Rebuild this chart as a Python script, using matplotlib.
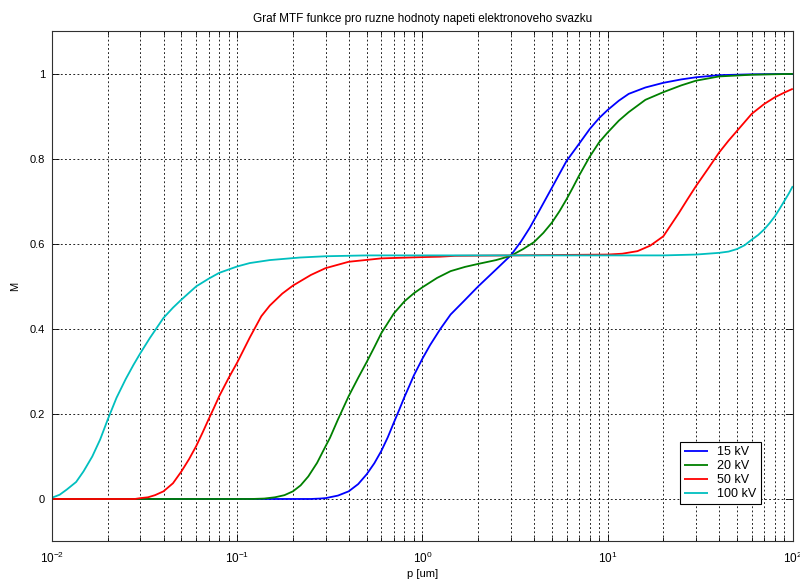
import matplotlib
matplotlib.use("Agg")
import matplotlib.pyplot as plt
from matplotlib.ticker import LogLocator, NullFormatter, FixedLocator

plt.rcParams['font.family'] = ['Liberation Sans', 'DejaVu Sans']
plt.rcParams['mathtext.fontset'] = 'custom'
plt.rcParams['mathtext.rm'] = 'Liberation Sans'
plt.rcParams['mathtext.it'] = 'Liberation Sans:italic'
plt.rcParams['mathtext.bf'] = 'Liberation Sans:bold'

title = "Graf MTF funkce pro ruzne hodnoty napeti elektronoveho svazku"
xlabel = "p [um]"
ylabel = "M"
labels = ["15 kV", "20 kV", "50 kV", "100 kV"]
colors = ["#0000ff", "#008000", "#ff0000", "#00bfbf"]

# 15 kV
p15 = [0.01, 0.1, 0.25, 0.28, 0.3, 0.35, 0.4, 0.45, 0.5, 0.55, 0.6, 0.65, 0.7, 0.75,
       0.8, 0.85, 0.9, 1.0, 1.1, 1.25, 1.42, 1.67, 2.0, 2.5, 3.0, 3.4, 3.8, 4.3, 5.0,
       5.5, 6.0, 7.0, 8.0, 9.0, 10.0, 11.5, 13.0, 16.0, 20.0, 25.0, 30.0, 40.0, 60.0,
       100.0]
m15 = [0.0, 0.0, 0.0, 0.001, 0.002, 0.008, 0.018, 0.035, 0.058, 0.084, 0.113, 0.145,
       0.179, 0.210, 0.240, 0.266, 0.291, 0.330, 0.362, 0.400, 0.434, 0.465, 0.500,
       0.540, 0.573, 0.605, 0.638, 0.680, 0.732, 0.765, 0.795, 0.835, 0.870, 0.896,
       0.915, 0.937, 0.953, 0.968, 0.979, 0.987, 0.992, 0.997, 0.999, 1.0]

# 20 kV
p20 = [0.01, 0.1, 0.12, 0.14, 0.16, 0.18, 0.2, 0.22, 0.242, 0.27, 0.3, 0.317, 0.35,
       0.4, 0.45, 0.5, 0.55, 0.6, 0.7, 0.8, 0.9, 1.0, 1.2, 1.42, 1.7, 2.0, 2.5, 3.0,
       3.5, 4.0, 4.5, 5.0, 5.5, 6.0, 6.5, 7.0, 8.0, 9.0, 10.0, 11.5, 13.0, 16.0, 20.0,
       25.0, 30.0, 40.0, 60.0, 100.0]
m20 = [0.0, 0.0, 0.0, 0.001, 0.004, 0.009, 0.018, 0.032, 0.053, 0.085, 0.124, 0.144,
       0.187, 0.242, 0.285, 0.322, 0.357, 0.390, 0.436, 0.465, 0.484, 0.498, 0.520,
       0.536, 0.546, 0.553, 0.562, 0.572, 0.588, 0.604, 0.626, 0.650, 0.677, 0.705,
       0.733, 0.760, 0.805, 0.839, 0.862, 0.890, 0.910, 0.939, 0.957, 0.973, 0.984,
       0.994, 0.998, 1.0]

# 50 kV
p50 = [0.01, 0.028, 0.03, 0.033, 0.036, 0.04, 0.045, 0.05, 0.055, 0.06, 0.065, 0.07,
       0.075, 0.08, 0.09, 0.1, 0.117, 0.135, 0.15, 0.175, 0.2, 0.25, 0.3, 0.4, 0.6,
       1.0, 1.25, 1.5, 3.0, 10.0, 12.0, 14.5, 17.0, 20.0, 22.0, 24.2, 27.0, 30.0,
       35.0, 40.0, 45.0, 50.0, 60.0, 70.0, 80.0, 90.0, 100.0]
m50 = [0.0, 0.0, 0.002, 0.004, 0.009, 0.018, 0.037, 0.065, 0.094, 0.124, 0.156,
       0.187, 0.215, 0.242, 0.285, 0.321, 0.380, 0.430, 0.455, 0.483, 0.502, 0.527,
       0.543, 0.558, 0.566, 0.569, 0.570, 0.572, 0.573, 0.575, 0.577, 0.583, 0.596,
       0.618, 0.645, 0.672, 0.705, 0.736, 0.778, 0.815, 0.843, 0.866, 0.906, 0.929,
       0.945, 0.956, 0.965]

# 100 kV
p100 = [0.01, 0.011, 0.012, 0.0135, 0.0148, 0.0165, 0.0182, 0.02, 0.0223, 0.025,
        0.0275, 0.03, 0.0338, 0.04, 0.045, 0.05, 0.06, 0.07, 0.08, 0.1, 0.117, 0.15,
        0.218, 0.3, 0.5, 1.0, 10.0, 20.0, 30.0, 40.0, 45.0, 50.0, 55.0, 60.0, 65.0,
        70.0, 75.0, 80.0, 85.0, 90.0, 95.0, 100.0]
m100 = [0.003, 0.010, 0.022, 0.040, 0.065, 0.100, 0.140, 0.187, 0.238, 0.282, 0.315,
        0.343, 0.379, 0.426, 0.450, 0.469, 0.500, 0.518, 0.532, 0.547, 0.555, 0.562,
        0.568, 0.571, 0.573, 0.573, 0.573, 0.573, 0.575, 0.579, 0.582, 0.588, 0.597,
        0.610, 0.621, 0.634, 0.649, 0.665, 0.683, 0.701, 0.718, 0.736]

series = [(p15, m15), (p20, m20), (p50, m50), (p100, m100)]

yticks = [0, 0.2, 0.4, 0.6, 0.8, 1.0]
yticklabels = ["0", "0.2", "0.4", "0.6", "0.8", "1"]

fig = plt.figure(figsize=(8.0, 5.81), dpi=100)
ax = fig.add_axes([0.065, 0.068, 0.926, 0.878])

for (px, py), c, lab in zip(series, colors, labels):
    ax.plot(px, py, color=c, lw=1.3, label=lab, solid_joinstyle='round',
            solid_capstyle='butt')

ax.set_xscale('log')
ax.set_xlim(0.01, 100)
ax.set_ylim(-0.1, 1.1)
ax.yaxis.set_major_locator(FixedLocator(yticks))
ax.set_yticklabels(yticklabels)
ax.xaxis.set_major_locator(LogLocator(base=10, numticks=10))
ax.xaxis.set_minor_locator(LogLocator(base=10, subs=range(2, 10), numticks=20))
ax.xaxis.set_minor_formatter(NullFormatter())

gstyle = dict(color='black', lw=0.6, linestyle=(0, (2.2, 2.8)))
ax.grid(True, which='major', axis='both', **gstyle)
ax.grid(True, which='minor', axis='x', **gstyle)
ax.set_axisbelow(True)

ax.tick_params(which='both', direction='in', top=True, right=True, labelsize=8,
               color='black', width=0.6)
ax.tick_params(which='major', length=5)
ax.tick_params(which='minor', length=3)
ax.tick_params(axis='x', pad=7, labelsize=8.5)
ax.tick_params(axis='y', pad=5)
for s in ax.spines.values():
    s.set_linewidth(0.8)
    s.set_color('#303030')

ax.set_title(title, fontsize=8.5, pad=7)
ax.set_xlabel(xlabel, fontsize=8, labelpad=2)
ax.set_ylabel(ylabel, fontsize=8, labelpad=7)

leg = ax.legend(loc='upper left', bbox_to_anchor=(680 / 800, 1 - 442 / 581),
                bbox_transform=fig.transFigure, fontsize=9, frameon=True,
                fancybox=False, edgecolor='black', framealpha=1,
                handlelength=1.9, handletextpad=0.7, labelspacing=0.15,
                borderpad=0.35, borderaxespad=0)
leg.get_frame().set_linewidth(0.8)

fig.savefig("out.png", dpi=100)
